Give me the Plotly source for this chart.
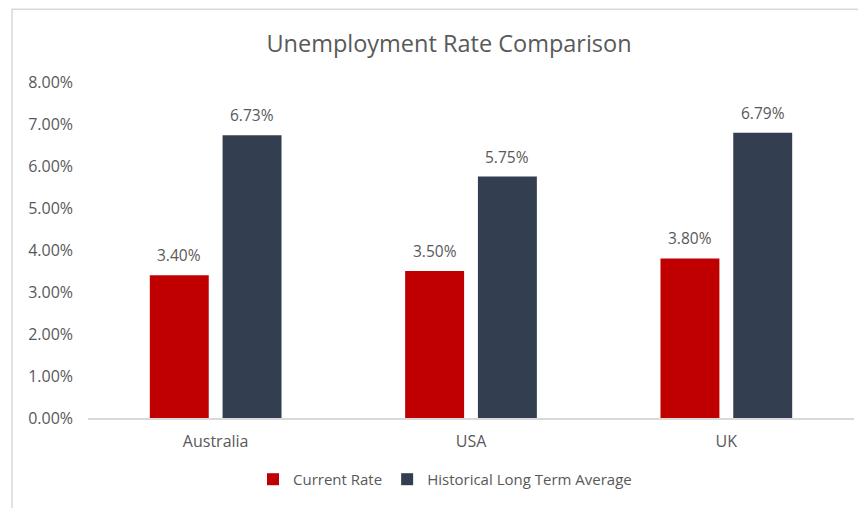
import plotly.graph_objects as go

categories = ["Australia", "USA", "UK"]
current_rate = [0.034, 0.035, 0.038]
historical_avg = [0.0673, 0.0575, 0.0679]
series_names = ["Current Rate", "Historical Long Term Average"]
colors = ["#C00000", "#333F50"]
tick_vals = [0, 0.01, 0.02, 0.03, 0.04, 0.05, 0.06, 0.07, 0.08]

# page has an 8px body margin, so figure coords = page coords - 8
OFF = 8
W, H = 866 - OFF, 508 - OFF
L, R, T, B = 88 - OFF, 12, 82 - OFF, 87
FONT = "Open Sans"
GREY = "#595959"
BARGAP, GROUPGAP = 0.43, 0.19

fig = go.Figure()
for name, vals, col in zip(series_names, [current_rate, historical_avg], colors):
    fig.add_trace(go.Bar(
        x=categories, y=vals, name=name, marker=dict(color=col, line=dict(width=0)),
    ))

pw = W - L - R
ph = H - T - B
def px(x):
    return (x - OFF - L) / pw
def py(y):
    return (H - B - (y - OFF)) / ph

# data labels above each bar
pitch = pw / len(categories) * (1 - BARGAP) / 2
annotations = []
for si, vals in enumerate([current_rate, historical_avg]):
    shift = (si - 0.5) * pitch
    for cat, v in zip(categories, vals):
        annotations.append(dict(
            x=cat, y=v, xref="x", yref="y", text=f"{v*100:.2f}%", showarrow=False,
            xanchor="center", yanchor="bottom", xshift=shift, yshift=7,
            font=dict(family=FONT, size=15.5, color=GREY),
        ))

fig.update_layout(
    width=W, height=H,
    margin=dict(l=L, r=R, t=T, b=B),
    paper_bgcolor="white", plot_bgcolor="white",
    barmode="group", bargap=BARGAP, bargroupgap=GROUPGAP,
    font=dict(family=FONT, color=GREY, size=14),
    title=dict(text="Unemployment Rate Comparison", x=px(449), xref="paper", xanchor="center",
               y=1 - (44 - OFF) / H, yanchor="middle", font=dict(family=FONT, size=23.5, color=GREY)),
    showlegend=True,
    legend=dict(orientation="h", x=px(445), xanchor="center", y=py(483), yanchor="middle",
                font=dict(family=FONT, size=15, color=GREY), itemwidth=30, traceorder="normal"),
    xaxis=dict(showline=True, linecolor="#D9D9D9", linewidth=1.5, ticks="",
               tickfont=dict(family=FONT, size=16, color=GREY), showgrid=False,
               ticklabelstandoff=8),
    yaxis=dict(range=[0, 0.08], tickvals=tick_vals, tickformat=".2%", showgrid=False,
               zeroline=False, showline=False, ticks="", ticklabelstandoff=14,
               tickfont=dict(family=FONT, size=16, color=GREY)),
    annotations=annotations,
    shapes=[
        dict(type="line", xref="paper", yref="paper", x0=px(12), x1=px(12), y0=py(8), y1=py(520),
             line=dict(color="#D9D9D9", width=1.5)),
        dict(type="line", xref="paper", yref="paper", x0=px(12), x1=px(880), y0=py(8.5), y1=py(8.5),
             line=dict(color="#D9D9D9", width=1.5)),
    ],
)
fig.write_html("out.html")
